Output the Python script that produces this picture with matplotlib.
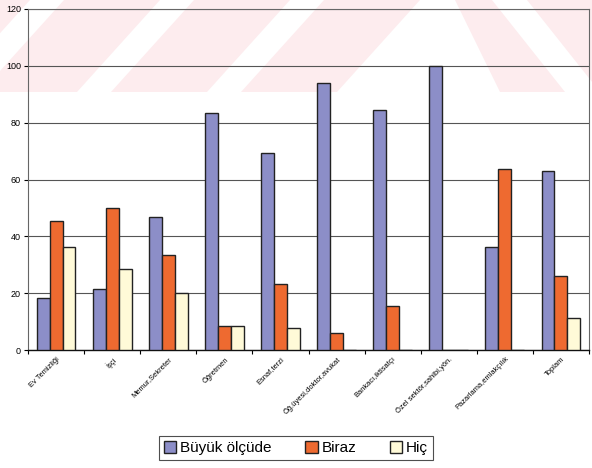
import numpy as np
import matplotlib
matplotlib.use('Agg')
import matplotlib.pyplot as plt
from matplotlib.patches import Polygon, Rectangle

plt.rcParams['font.family'] = ['Liberation Sans', 'DejaVu Sans']

categories = ['Ev Temizliği', 'İşçi', 'Memur,Sekreter', 'Öğretmen', 'Esnaf,terzi',
              'Öğ.üyesi,doktor,avukat', 'Bankacı,iktisatçı', 'Özel sektör,sahibi,yön.',
              'Pazarlama,emlakçılık', 'Toplam']
buyuk = [18.2, 21.4, 46.7, 83.3, 69.2, 94.1, 84.6, 100.0, 36.4, 63.0]
biraz = [45.5, 50.0, 33.3, 8.3, 23.1, 5.9, 15.4, 0.0, 63.6, 25.9]
hic = [36.3, 28.6, 20.0, 8.3, 7.7, 0.0, 0.0, 0.0, 0.0, 11.1]
series_names = ['Büyük ölçüde', 'Biraz', 'Hiç']
colors = ['#8c8ec8', '#ee6a30', '#fffad8']
yticks = [0, 20, 40, 60, 80, 100, 120]

W, H = 592, 468
fig = plt.figure(figsize=(W / 100, H / 100), dpi=100)

# faint scanned watermark band at the top (pixel coords -> figure fraction)
def px(pts):
    return [(x / W, 1 - y / H) for x, y in pts]

pink = '#fdecee'
fig.patches.append(Rectangle((0, 1 - 92 / H), 1, 92 / H, transform=fig.transFigure,
                             facecolor=pink, edgecolor='none', zorder=0))
for b in [-53, 77, 207]:
    fig.patches.append(Polygon(px([(b, 92), (b + 34, 92), (b + 117, 0), (b + 83, 0)]),
                               transform=fig.transFigure, facecolor='white',
                               edgecolor='none', zorder=0))
fig.patches.append(Polygon(px([(337, 92), (500, 92), (455, 0), (420, 0)]),
                           transform=fig.transFigure, facecolor='white', edgecolor='none', zorder=0))
fig.patches.append(Polygon(px([(492, 0), (527, 0), (600, 92), (565, 92)]),
                           transform=fig.transFigure, facecolor='white', edgecolor='none', zorder=0))

ax = fig.add_axes([28 / W, 1 - 350 / H, (589 - 28) / W, (350 - 9) / H])
ax.set_facecolor('none')
ax.set_zorder(2)

x = np.arange(len(categories))
w = 0.23
for i, vals in enumerate([buyuk, biraz, hic]):
    ax.bar(x + (i - 1) * w, vals, w, color=colors[i], edgecolor='#222222',
           linewidth=1.0, label=series_names[i], zorder=3)

ax.set_xlim(-0.5, len(categories) - 0.5)
ax.set_ylim(0, 120)
ax.set_yticks(yticks)
ax.set_yticklabels([str(t) for t in yticks], fontsize=6.5)
ax.yaxis.grid(True, color='#555555', linewidth=0.8, zorder=1)

ax.set_xticks(x)
ax.set_xticklabels(categories, rotation=45, ha='right', rotation_mode='anchor', fontsize=5.4)
ax.tick_params(axis='x', length=0, pad=4)
ax.set_xticks(np.arange(-0.5, len(categories)), minor=True)
ax.tick_params(axis='x', which='minor', length=3, direction='out', width=0.8)
ax.tick_params(axis='y', length=3, width=0.8, pad=2)

for side in ['left', 'right', 'top']:
    ax.spines[side].set_color('#666666')
    ax.spines[side].set_linewidth(0.8)
ax.spines['bottom'].set_color('#111111')
ax.spines['bottom'].set_linewidth(1.0)

leg = fig.legend(loc='center', bbox_to_anchor=(0.5, 1 - 448 / H), ncol=3, fontsize=11,
                 frameon=True, fancybox=False, edgecolor='#222222', handlelength=0.8,
                 handleheight=0.8, handletextpad=0.25, columnspacing=2.2,
                 borderpad=0.35)
leg.get_frame().set_linewidth(0.8)

fig.savefig('out.png', dpi=100)
